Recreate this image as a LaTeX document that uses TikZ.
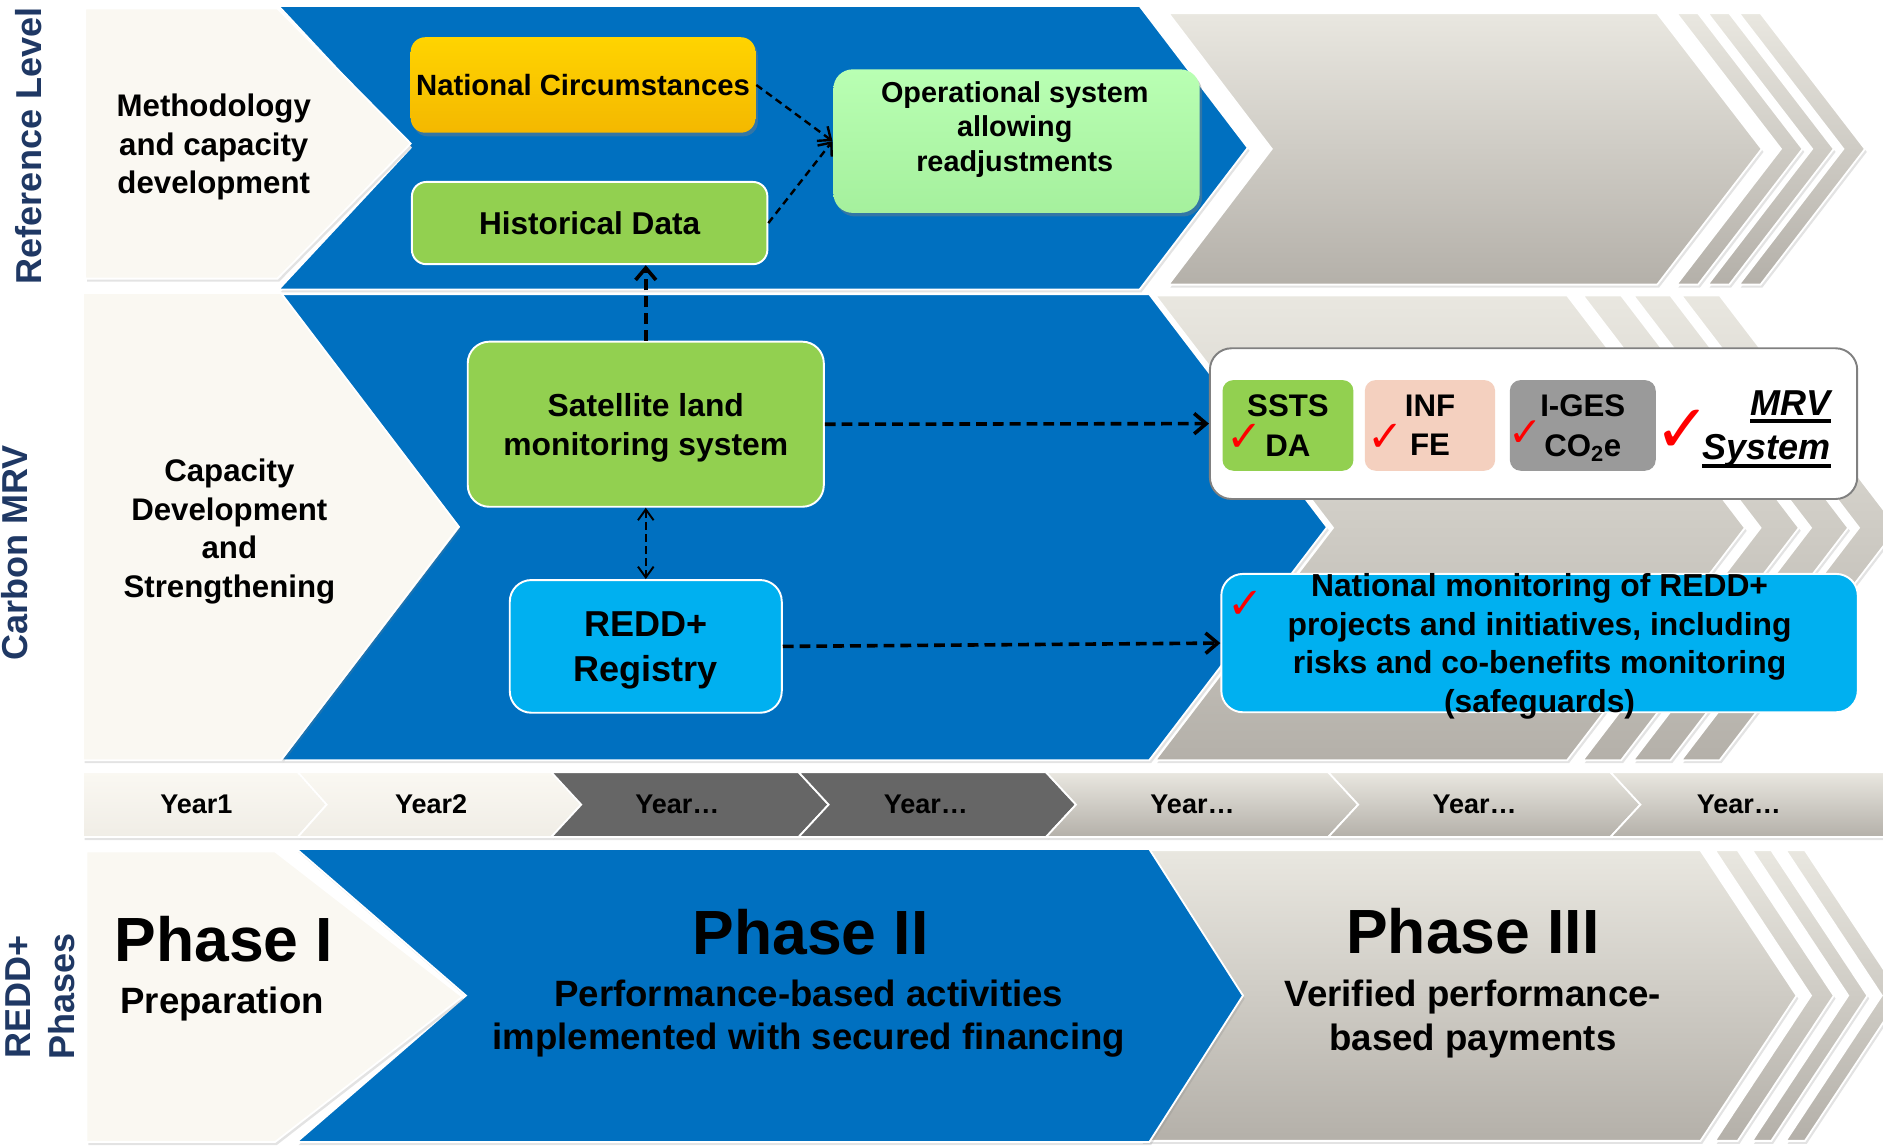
\documentclass[tikz,border=0pt]{standalone}
\usepackage{fontspec}
\setmainfont{Liberation Sans}
\newfontfamily\tickfont{DejaVu Sans}
\usetikzlibrary{arrows.meta,shadows}
\definecolor{bandblue}{HTML}{0070C0}
\definecolor{cream}{HTML}{FAF8F2}
\definecolor{creamlo}{HTML}{F0EDE6}
\definecolor{greyhi}{HTML}{E9E7E0}
\definecolor{greylo}{HTML}{B4B0A9}
\definecolor{darkcell}{HTML}{666666}
\definecolor{leaf}{HTML}{92D050}
\definecolor{sky}{HTML}{00B0F0}
\definecolor{goldhi}{HTML}{FFD400}
\definecolor{goldlo}{HTML}{F4B800}
\definecolor{minthi}{HTML}{B9FFB3}
\definecolor{mintlo}{HTML}{A5F09D}
\definecolor{peach}{HTML}{F4D0BF}
\definecolor{grey60}{HTML}{9A9A9A}
\definecolor{grey50}{HTML}{808080}
\definecolor{navy}{HTML}{1F3864}
\def\chev#1#2#3#4#5#6{(#1,#3) -- (#2,#3) -- ({#2+#6},{(#3+#4)/2}) -- (#2,#4) -- (#1,#4) -- ({#1+#5},{(#3+#4)/2}) -- cycle}
\def\fs#1#2{\fontsize{#1}{#2}\selectfont\bfseries}
\def\redtick#1{{\tickfont\fontsize{#1}{#1}\selectfont\color{red}✓}}
\def\ul#1{\setbox0\hbox{#1}\rlap{\rule[-6.5pt]{\wd0}{3pt}}\box0}
\def\nodp#1{\raisebox{0pt}[\height][0pt]{#1}}

\begin{document}
\begin{tikzpicture}[x=1pt,y=-1pt,
  band/.style={draw=white,line width=1.5pt,drop shadow={opacity=.22,shadow xshift=1.5pt,shadow yshift=-2.5pt}},
  greyband/.style={band,top color=greyhi,bottom color=greylo},
  box/.style={rounded corners=12pt,inner sep=0pt,align=center,draw=white,line width=1.6pt},
  lift/.style={drop shadow={opacity=.4,shadow xshift=2pt,shadow yshift=-3pt}},
  mrvcell/.style={rounded corners=9pt,inner sep=0pt,align=center,minimum width=#1,minimum height=75.5pt,font=\fs{26}{33}},
  side/.style={rotate=90,text=navy,inner sep=0pt,align=center,font=\fs{30}{36.5}},
  yeartxt/.style={font=\fs{22.5}{27}},
  flow/.style={line width=2pt,dash pattern=on 6pt off 4pt,-{Straight Barb[length=9pt,width=15pt]}},
  bigflow/.style={line width=3pt,dash pattern=on 9pt off 5pt,-{Straight Barb[length=10pt,width=17pt]}},
  thinflow/.style={line width=1.6pt,dash pattern=on 6pt off 4pt,arrows={Straight Barb[length=9pt,width=13pt]-Straight Barb[length=9pt,width=13pt]}}]
\useasboundingbox (0,0) rectangle (1568,954);

\foreach \xa/\xb/\ya/\yb/\d in {1448/1466/11/237/87, 1422/1440/11/237/87, 1396/1414/11/237/87,
    1400/1432/246/633/148, 1360/1391/246/633/148, 1318/1350/246/633/148,
    1487/1503/708/950/80, 1459/1475/708/950/80, 1428/1447/708/950/80}
  \path[greyband] \chev{\xa}{\xb}{\ya}{\yb}{\d}{\d};
\path[greyband] \chev{973}{1380}{11}{237}{86}{87};
\path[greyband] \chev{962}{1305}{246}{633}{148}{148};
\path[greyband] \chev{950}{1416}{708}{950}{85}{80};

\path[band,fill=bandblue] \chev{232}{949}{5}{241}{110}{90};
\path[band,fill=bandblue] \chev{234}{957}{245}{633}{148}{148};
\path[band,fill=bandblue] \chev{247}{957}{707}{951}{141}{78};

\path[band,fill=cream] \chev{71}{231}{7}{232}{0}{111};
\path[band,fill=cream] \chev{69}{234}{244}{633}{0}{148};
\path[band,fill=cream] \chev{72}{229}{709}{951}{0}{156};

\foreach \xa/\xb/\dl/\dr/\ct/\cb/\xt/\t [count=\i] in {
    69/248/0/24/cream/creamlo/163.5/Year1,
    248/459/24/25/cream/creamlo/359/Year2,
    459/665/25/25/darkcell/darkcell/564/Year…,
    665/871/25/25/darkcell/darkcell/771/Year…,
    871/1106/25/25/greyhi/greylo/993/Year…,
    1106/1341/25/25/greyhi/greylo/1228/Year…,
    1341/1580/25/0/greyhi/greylo/1448/Year…}
{
  \path[band,top color=\ct,bottom color=\cb] \chev{\xa}{\xb}{643}{697}{\dl}{\dr};
  \node[yeartxt] (yr\i) at (\xt,670) {\t};
}

\node[side] (lref) at (23.5,121.5) {Reference Level};
\node[side] (lmrv) at (12.5,460.5) {Carbon MRV};
\node[side] (lphase) at (33.5,830) {REDD+\\Phases};

\node[align=center,font=\fs{26}{32}] (meth) at (178,122.5) {Methodology\\and capacity\\development};
\node[align=center,font=\fs{26}{32}] (capdev) at (191,442.6) {Capacity\\Development\\and\\Strengthening};

\node[box,lift,draw=none,top color=goldhi,bottom color=goldlo,minimum width=287pt,minimum height=79.5pt,font=\fs{24.4}{29}] (nc) at (485.5,70.75) {National Circumstances};
\node[box,fill=leaf,minimum width=296pt,minimum height=68.5pt,font=\fs{26.3}{31}] (hist) at (491,185.75) {Historical Data};
\node[box,lift,draw=none,top color=minthi,bottom color=mintlo,rounded corners=16pt,minimum width=305pt,minimum height=119.5pt] (op) at (846.5,117.5) {};
\node[align=center,font=\fs{24}{29}] (optxt) at (845,107.8) {Operational system\\allowing\\readjustments};

\node[box,fill=leaf,rounded corners=18pt,minimum width=296.5pt,minimum height=137.5pt,font=\fs{26.5}{32.7}] (sat) at (537.75,353.25) {Satellite land\\\nodp{monitoring system}};
\node[box,fill=sky,rounded corners=18pt,minimum width=226.5pt,minimum height=110.5pt,font=\fs{30}{37}] (redd) at (537.75,538.25) {REDD+\\\nodp{Registry}};

\node[box,draw=grey50,fill=white,rounded corners=18pt,minimum width=539pt,minimum height=125.5pt] (mrv) at (1277,352.75) {};
\node[mrvcell=109pt,fill=leaf] (ssts) at (1072.5,354.25) {SSTS\\DA};
\node[mrvcell=108.5pt,fill=peach] (inf) at (1190.75,354.25) {INF\\FE};
\node[mrvcell=121.5pt,fill=grey60] (iges) at (1318,354.25) {I-GES\\\nodp{CO\textsubscript{2}e}};
\node[anchor=base east,inner sep=0pt,font=\fs{30}{36}\itshape] (mrvt) at (1524.5,345.6) {\ul{MRV}};
\node[anchor=base east,inner sep=0pt,font=\fs{30}{36}\itshape] (syst) at (1524.5,383) {\ul{System}};

\node[box,fill=sky,rounded corners=18pt,minimum width=530pt,minimum height=113pt,font=\fs{26.5}{32}] (nat) at (1282,535.5) {National monitoring of REDD+\\projects and initiatives, including\\risks and co-benefits monitoring\\\nodp{(safeguards)}};

\foreach \n/\x/\y/\s in {ck1/1036/364.5/36, ck2/1153.5/364.5/36, ck3/1270/361/34, ck4/1401/359/56, ck5/1037/504/36}
  \node[inner sep=0pt] (\n) at (\x,\y) {\redtick{\s}};

\node[anchor=base,inner sep=0pt,font=\fs{52}{60}] (ph1) at (186.5,801) {Phase I};
\node[anchor=base,inner sep=0pt,font=\fs{30.5}{36}] (ph1txt) at (185,843.6) {Preparation};
\node[anchor=base,inner sep=0pt,font=\fs{52}{60}] (ph2) at (675,795) {Phase II};
\node[align=center,inner sep=0pt,font=\fs{30.5}{36}] (ph2txt) at (673.5,848.5) {Performance-based activities\\implemented with secured financing};
\node[anchor=base,inner sep=0pt,font=\fs{52}{60}] (ph3) at (1226.5,794) {Phase III};
\node[align=center,inner sep=0pt,font=\fs{30.5}{36}] (ph3txt) at (1226.5,848.5) {Verified performance-\\based payments};

\draw[flow] (nc.east) -- (op.west);
\draw[flow] (hist.east) -- (op.west);
\draw[bigflow] (sat.north) -- (sat.north |- hist.south);
\draw[thinflow] (sat.south) -- (redd.north);
\draw[bigflow] (sat.east) -- (mrv.west);
\draw[bigflow] (redd.east) -- (nat.west);
\end{tikzpicture}
\end{document}
